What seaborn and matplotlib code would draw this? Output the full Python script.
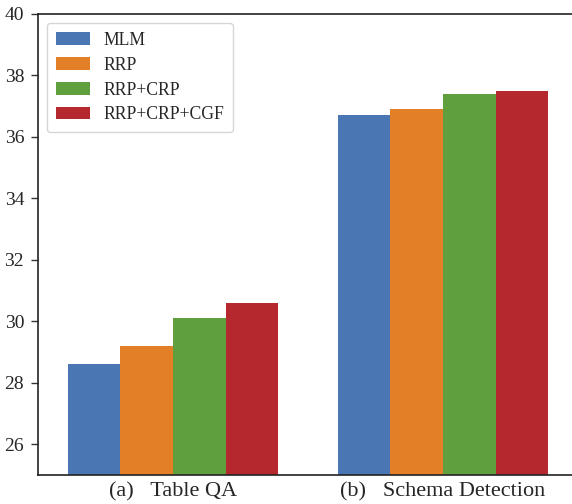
import pandas as pd
import matplotlib.pyplot as plt
import seaborn as sns

# ── Dados ─────────────────────────────────────────────────────────────────────
tarefas = ["(a)   Table QA", "(b)   Schema Detection"]
metodos = ["MLM", "RRP", "RRP+CRP", "RRP+CRP+CGF"]
valores_qa = [28.6, 29.2, 30.1, 30.6]
valores_schema = [36.7, 36.9, 37.4, 37.5]
cores = ["#4a77b4", "#e27f27", "#5f9f3e", "#b5292e"]

df = pd.DataFrame({
    "tarefa": [tarefas[0]] * 4 + [tarefas[1]] * 4,
    "metodo": metodos * 2,
    "valor": valores_qa + valores_schema,
})

# ── Configuração geral ────────────────────────────────────────────────────────
sns.set_theme(style="ticks")
plt.rcParams["font.family"] = ["Liberation Serif", "DejaVu Sans"]

fig = plt.figure(figsize=(5.72, 5.04), dpi=100)
ax = fig.add_axes([38 / 572, 29 / 504, 540 / 572, 461 / 504])

sns.barplot(
    data=df,
    x="tarefa",
    y="valor",
    hue="metodo",
    palette=cores,
    width=0.78,
    saturation=1,
    linewidth=0,
    edgecolor="none",
    ax=ax,
)

ax.set_ylim(25, 40)
ax.set_yticks(range(26, 41, 2))
ax.set_xlabel("")
ax.set_ylabel("")
ax.tick_params(axis="y", labelsize=14, length=5, width=1, color="#333333", pad=5)
ax.tick_params(axis="x", labelsize=16, length=0, pad=5)
for s in ax.spines.values():
    s.set_color("#222222")
    s.set_linewidth(1.2)

leg = ax.legend(
    loc="upper left",
    fontsize=12.7,
    frameon=True,
    handlelength=1.95,
    handleheight=0.7,
    labelspacing=0.45,
    handletextpad=0.75,
    borderpad=0.5,
    bbox_to_anchor=(0.0, 1.0),
)
leg.get_frame().set_edgecolor("#cccccc")
leg.get_frame().set_linewidth(1.0)

plt.savefig("out.png", dpi=100)
plt.close()
